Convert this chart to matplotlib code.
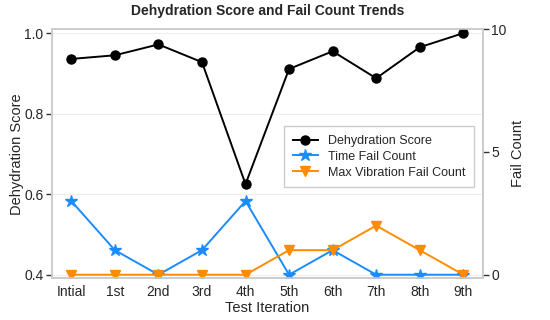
import matplotlib
matplotlib.use("Agg")
import matplotlib.pyplot as plt

iterations = ["Intial", "1st", "2nd", "3rd", "4th", "5th", "6th", "7th", "8th", "9th"]
dehydration_score = [0.936, 0.945, 0.972, 0.928, 0.625, 0.911, 0.955, 0.888, 0.965, 1.0]
time_fail_count = [3, 1, 0, 1, 3, 0, 1, 0, 0, 0]
max_vibration_fail_count = [0, 0, 0, 0, 0, 1, 1, 2, 1, 0]

plt.rcParams['font.family'] = ['Arial', 'Liberation Sans', 'DejaVu Sans']
plt.rcParams['text.color'] = '#262626'
plt.rcParams['axes.labelcolor'] = '#262626'
plt.rcParams['xtick.color'] = '#262626'
plt.rcParams['ytick.color'] = '#262626'

fig, ax = plt.subplots(figsize=(5.5, 3.2), dpi=100)
fig.subplots_adjust(left=0.094, right=0.878, top=0.909, bottom=0.13)

x = list(range(len(iterations)))
l1, = ax.plot(x, dehydration_score, color='black', marker='o', markersize=6.5,
              linewidth=1.4, label='Dehydration Score', zorder=3)
ax.set_ylim(0.391, 1.01)
ax.set_yticks([0.4, 0.6, 0.8, 1.0])
ax.set_ylabel('Dehydration Score', fontsize=10.5, labelpad=0)
ax.set_xlabel('Test Iteration', fontsize=10.5, labelpad=1)
ax.set_xticks(x)
ax.set_xticklabels(iterations)
ax.grid(axis='y', color='#eeeeee', linewidth=0.8)
ax.set_axisbelow(True)

ax2 = ax.twinx()
l2, = ax2.plot(x, time_fail_count, color='#1a8cff', marker='*', markersize=9,
               linewidth=1.4, label='Time Fail Count')
l3, = ax2.plot(x, max_vibration_fail_count, color='#ff8c00', marker='v', markersize=7,
               linewidth=1.4, label='Max Vibration Fail Count')
ax2.set_ylim(-0.15, 10.0)
ax2.set_yticks([0, 5, 10])
ax2.set_ylabel('Fail Count', fontsize=10.5, labelpad=3)

for a in (ax, ax2):
    for s in a.spines.values():
        s.set_color('#cccccc')
        s.set_linewidth(1.2)
    a.tick_params(labelsize=10, color='#333333', length=4, width=1, pad=2)
ax.tick_params(axis='x', length=0, pad=5)

ax.set_title('Dehydration Score and Fail Count Trends', fontsize=10, fontweight='bold', pad=10)

leg = ax2.legend(handles=[l1, l2, l3], loc='upper right', bbox_to_anchor=(0.985, 0.62),
                 fontsize=9, frameon=True, framealpha=1, edgecolor='#cccccc',
                 handlelength=2.0, borderpad=0.4, labelspacing=0.3)
leg.get_frame().set_boxstyle('square')

fig.savefig('out.png', dpi=100)
